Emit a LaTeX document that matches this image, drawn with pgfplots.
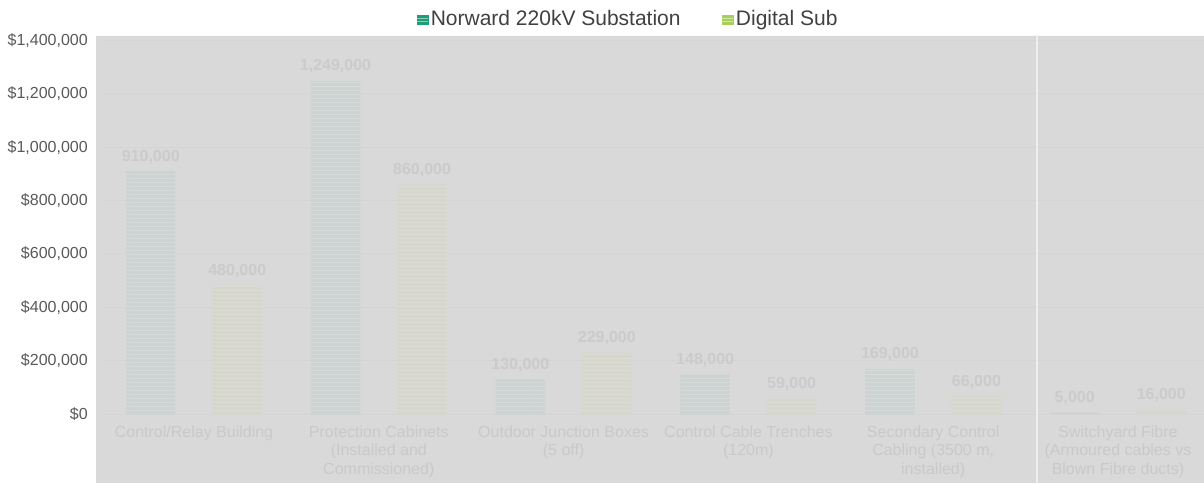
\documentclass[border=0pt]{standalone}
\usepackage{pgfplots}
\pgfplotsset{compat=1.18}
\usepackage{pgfplotstable}
\usepackage{fontspec}
\setmainfont{Liberation Sans}
\usetikzlibrary{patterns}
\definecolor{bggray}{HTML}{D9D9D9}
\definecolor{gridgray}{HTML}{D4D4D4}
\definecolor{tickgray}{HTML}{595959}
\definecolor{legtext}{HTML}{404040}
\definecolor{lblgray}{HTML}{CBCBCB}
\definecolor{catgray}{HTML}{C9C9C9}
\definecolor{normteal}{HTML}{1E9C76}
\definecolor{diggreen}{HTML}{A8CF5C}
\definecolor{normfade}{HTML}{CBD4D2}
\definecolor{normstripe}{HTML}{D6DAD9}
\definecolor{digfade}{HTML}{D5D7CC}
\definecolor{digstripe}{HTML}{DCDCD5}
\pgfplotstableread{
x n d
0 910000 480000
1 1249000 860000
2 130000 229000
3 148000 59000
4 169000 66000
5 5000 16000
}\costdata
\begin{document}
\begin{tikzpicture}
\fill[bggray] (-5.6*0.75pt,-69*0.75pt) rectangle (1110*0.75pt,378.5*0.75pt);
\draw[color=white!90!bggray, line width=0.75pt] (-5.6*0.75pt,378.5*0.75pt) -- (1110*0.75pt,378.5*0.75pt);
\begin{axis}[
  scale only axis,
  width=831.6pt, height=280.125pt,
  xmin=-0.5, xmax=5.5,
  ymin=0, ymax=1400000,
  ybar,
  axis line style={draw=none},
  major tick length=0pt,
  tick style={draw=none},
  ymajorgrids,
  grid style={color=gridgray, line width=0.75pt},
  ytick={0,200000,400000,600000,800000,1000000,1200000,1400000},
  yticklabels={{\$0},{\$200,000},{\$400,000},{\$600,000},{\$800,000},{\$1,000,000},{\$1,200,000},{\$1,400,000}},
  scaled y ticks=false,
  yticklabel style={font=\fontsize{12}{14}\selectfont, text=tickgray, anchor=east, inner sep=0pt, xshift=-10.2pt},
  xtick={0,1,2,3,4,5},
  xticklabels={{Control/Relay Building},{Protection Cabinets\\(Installed and\\Commissioned)},{Outdoor Junction Boxes\\(5 off)},{Control Cable Trenches\\(120m)},{Secondary Control\\Cabling (3500 m,\\installed)},{Switchyard Fibre\\(Armoured cables vs\\Blown Fibre ducts)}},
  xticklabel style={align=center, font=\fontsize{12}{13.9}\selectfont, text=catgray, anchor=north, inner sep=0pt, yshift=-8.5pt},
  nodes near coords={\pgfmathprintnumber[fixed,precision=0,1000 sep={,},assume math mode=true]{\pgfplotspointmeta}},
  every node near coord/.append style={font=\bfseries\fontsize{12}{14}\selectfont, text=lblgray, anchor=south, inner sep=0pt, yshift=5.5pt},
  legend columns=2,
  legend cell align=left,
  legend style={at={(0.4752,1.0576)}, anchor=center, draw=none, fill=none,
    font=\fontsize{15.75}{18}\selectfont, text=legtext,
    /tikz/every even column/.append style={column sep=29pt}},
  clip=false,
]
\addlegendimage{legend image code/.code={\fill[normteal] (0pt,-4pt) rectangle (8pt,3pt); \draw[white, opacity=0.5, line width=0.5pt] (0pt,-1.7pt) -- (8pt,-1.7pt) (0pt,0.6pt) -- (8pt,0.6pt);}}
\addlegendentry{Norward 220kV Substation}
\addlegendimage{legend image code/.code={\fill[diggreen] (0pt,-4pt) rectangle (8pt,3pt); \draw[white, opacity=0.5, line width=0.5pt] (0pt,-1.7pt) -- (8pt,-1.7pt) (0pt,0.6pt) -- (8pt,0.6pt);}}
\addlegendentry{Digital Sub}
\addplot[forget plot, bar width=37.125pt, bar shift=-32.44pt, fill=normfade, draw=none,
  postaction={pattern=horizontal lines, pattern color=normstripe}] table[x=x,y=n]{\costdata};
\addplot[forget plot, bar width=37.125pt, bar shift=32.44pt, fill=digfade, draw=none,
  postaction={pattern=horizontal lines, pattern color=digstripe}] table[x=x,y=d]{\costdata};
\end{axis}
\draw[color=white!55!bggray, line width=1.5pt] (935.4*0.75pt,-69*0.75pt) -- (935.4*0.75pt,378.5*0.75pt);
\pgfresetboundingbox
\path[use as bounding box] (-101.6*0.75pt,-69*0.75pt) rectangle (1102.4*0.75pt,414*0.75pt);
\end{tikzpicture}
\end{document}
